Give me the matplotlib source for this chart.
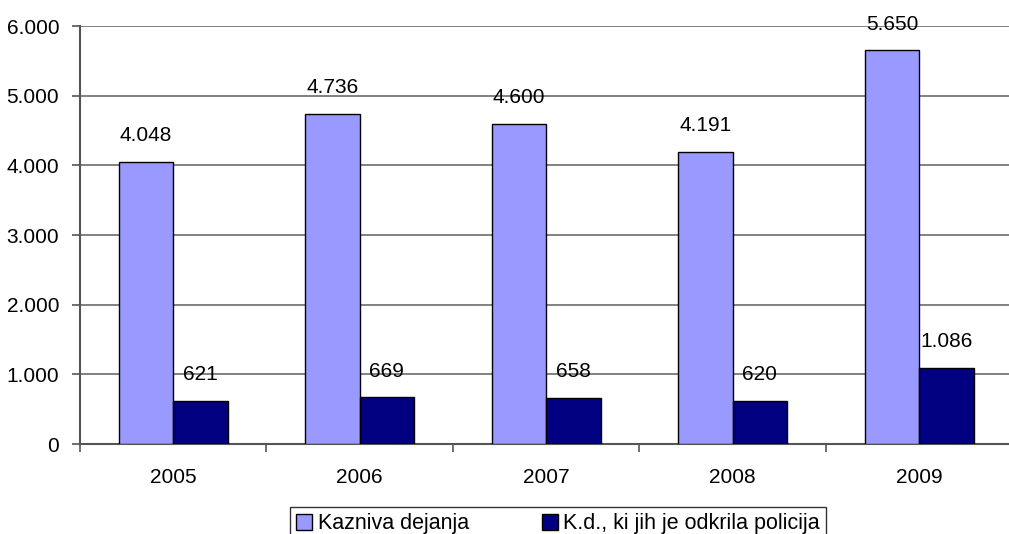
import numpy as np
import matplotlib
matplotlib.use("Agg")
import matplotlib.pyplot as plt

# Data
years = ["2005", "2006", "2007", "2008", "2009"]
kazniva = [4048, 4736, 4600, 4191, 5650]
odkrila = [621, 669, 658, 620, 1086]
kazniva_labels = ["4.048", "4.736", "4.600", "4.191", "5.650"]
odkrila_labels = ["621", "669", "658", "620", "1.086"]
yticks = [0, 1000, 2000, 3000, 4000, 5000, 6000]
ytick_labels = ["0", "1.000", "2.000", "3.000", "4.000", "5.000", "6.000"]

plt.rcParams['font.family'] = ['Liberation Sans', 'DejaVu Sans']
fs = 15

fig = plt.figure(figsize=(10.09, 5.34), dpi=100)
ax = fig.add_axes([0.0793, 0.1685, 0.924, 0.7828])

x = np.arange(len(years))
w = 0.292
ax.bar(x - w / 2, kazniva, w, color="#9999FF", edgecolor="black", linewidth=1,
       label="Kazniva dejanja", zorder=3)
ax.bar(x + w / 2, odkrila, w, color="#000080", edgecolor="black", linewidth=1,
       label="K.d., ki jih je odkrila policija", zorder=3)

# value labels
for i in range(len(years)):
    ax.annotate(kazniva_labels[i], (x[i] - w / 2, kazniva[i]), xytext=(0, 19),
                textcoords="offset points", ha="center", va="center", fontsize=fs)
    ax.annotate(odkrila_labels[i], (x[i] + w / 2, odkrila[i]), xytext=(0, 19),
                textcoords="offset points", ha="center", va="center", fontsize=fs)

ax.set_xlim(-0.5, len(years) - 0.5)
ax.set_ylim(0, 6000)
ax.set_yticks(yticks)
ax.set_yticklabels(ytick_labels, fontsize=fs)
ax.yaxis.grid(True, color="#777777", linewidth=1.3, zorder=0)
ax.set_axisbelow(True)

ax.set_xticks(x)
ax.set_xticklabels(years, fontsize=fs)
ax.tick_params(axis="x", which="major", length=0, pad=17)
ax.set_xticks(np.arange(len(years) + 1) - 0.5, minor=True)
ax.tick_params(axis="x", which="minor", length=6, color="#555555", width=1.2)
ax.tick_params(axis="y", length=6, color="#555555", width=1.2, pad=9)

for s in ["top", "right"]:
    ax.spines[s].set_visible(False)
ax.spines["left"].set_color("#555555")
ax.spines["left"].set_linewidth(1.5)
ax.spines["bottom"].set_color("#555555")
ax.spines["bottom"].set_linewidth(1.5)

leg = fig.legend(loc="upper center", bbox_to_anchor=(558 / 1009, 1 - 507 / 534), ncol=2,
                 fontsize=15.5, frameon=True, fancybox=False, edgecolor="black",
                 handlelength=0.75, handleheight=0.75, handletextpad=0.25,
                 columnspacing=3.4, borderpad=0.3, borderaxespad=0)
leg.get_frame().set_linewidth(1)

fig.savefig("out.png", dpi=100)
